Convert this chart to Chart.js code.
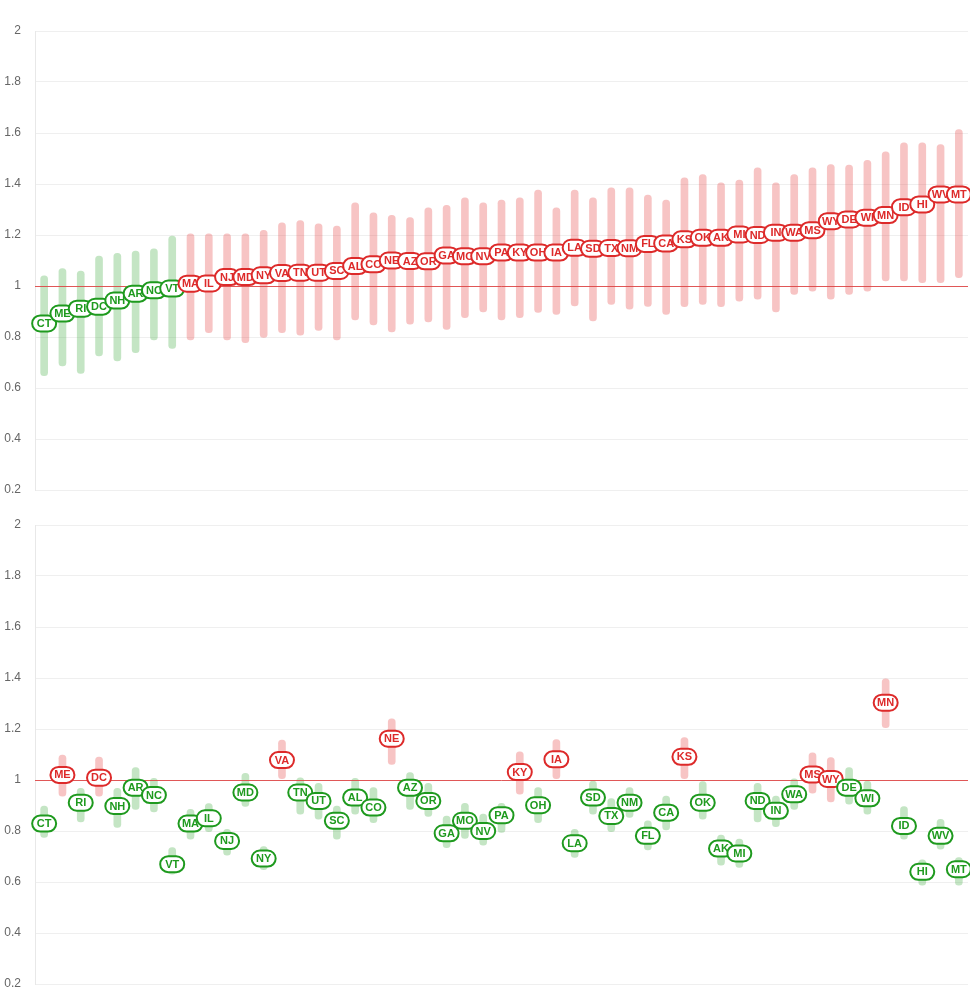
<!DOCTYPE html>
<html>
<head>
<meta charset="utf-8">
<script src="https://cdn.jsdelivr.net/npm/chart.js@4.4.1/dist/chart.umd.min.js"></script>
<style>
    html, body { margin: 0; padding: 0; background: #fff; }
    .panel { position: relative; width: 970px; height: 500px; }
</style>
</head>
<body>
<div class="panel"><canvas id="topChart"></canvas></div>
<div class="panel"><canvas id="bottomChart"></canvas></div>
<script>
// State order (sorted by the top panel estimate)
const states = ['CT','ME','RI','DC','NH','AR','NC','VT','MA','IL','NJ','MD','NY','VA','TN','UT','SC','AL','CO','NE',
    'AZ','OR','GA','MO','NV','PA','KY','OH','IA','LA','SD','TX','NM','FL','CA','KS','OK','AK','MI','ND',
    'IN','WA','MS','WY','DE','WI','MN','ID','HI','WV','MT'];

// Top panel: estimate and interval
const topValue = [0.853,0.892,0.911,0.919,0.943,0.970,0.983,0.990,1.009,1.010,1.035,1.035,1.042,1.051,1.052,1.052,1.059,1.078,1.085,1.100,
    1.098,1.097,1.120,1.117,1.117,1.131,1.131,1.131,1.131,1.150,1.146,1.149,1.148,1.165,1.167,1.183,1.189,1.189,1.202,1.200,
    1.209,1.209,1.219,1.254,1.261,1.268,1.278,1.309,1.320,1.359,1.359];
const topLow = [0.648,0.687,0.657,0.726,0.706,0.739,0.789,0.755,0.789,0.817,0.789,0.778,0.798,0.817,0.807,0.826,0.789,0.867,0.847,0.820,
    0.850,0.859,0.830,0.876,0.898,0.867,0.876,0.896,0.889,0.922,0.863,0.928,0.909,0.920,0.889,0.919,0.928,0.919,0.941,0.948,
    0.898,0.967,0.980,0.948,0.967,0.980,1.020,1.020,1.013,1.013,1.033];
const topHigh = [1.040,1.068,1.059,1.117,1.128,1.137,1.146,1.196,1.205,1.205,1.205,1.205,1.218,1.248,1.257,1.244,1.235,1.326,1.287,1.277,
    1.268,1.307,1.316,1.346,1.326,1.337,1.346,1.376,1.307,1.376,1.346,1.385,1.385,1.357,1.337,1.424,1.437,1.405,1.415,1.463,
    1.405,1.437,1.463,1.476,1.474,1.493,1.526,1.561,1.561,1.555,1.613];

// Bottom panel: estimate and interval
const bottomValue = [0.829,1.020,0.911,1.009,0.898,0.970,0.941,0.670,0.829,0.850,0.761,0.951,0.692,1.078,0.951,0.918,0.840,0.931,0.892,1.162,
    0.970,0.918,0.791,0.840,0.800,0.862,1.031,0.901,1.081,0.752,0.931,0.859,0.911,0.781,0.872,1.091,0.911,0.731,0.712,0.918,
    0.879,0.944,1.022,1.004,0.970,0.928,1.303,0.820,0.640,0.781,0.650];
const bottomLow = [0.775,0.937,0.836,0.937,0.814,0.885,0.875,0.631,0.768,0.797,0.705,0.896,0.648,1.005,0.866,0.846,0.768,0.866,0.833,1.061,
    0.885,0.857,0.735,0.771,0.744,0.794,0.944,0.833,1.005,0.696,0.866,0.797,0.853,0.726,0.804,1.005,0.846,0.666,0.657,0.836,
    0.817,0.885,0.948,0.914,0.905,0.866,1.205,0.768,0.588,0.729,0.588];
const bottomHigh = [0.898,1.098,0.967,1.090,0.967,1.049,1.007,0.735,0.885,0.908,0.807,1.026,0.739,1.157,1.009,0.987,0.898,1.007,0.970,1.240,
    1.029,0.987,0.859,0.909,0.866,0.909,1.110,0.970,1.159,0.807,0.996,0.927,0.970,0.840,0.937,1.166,0.994,0.784,0.768,0.987,
    0.937,1.005,1.107,1.088,1.049,0.996,1.397,0.896,0.687,0.846,0.696];

const yTicks = [0.2, 0.4, 0.6, 0.8, 1, 1.2, 1.4, 1.6, 1.8, 2];
const refValue = 1;

const RED = '#dd2a2a';
const GREEN = '#1e9a1e';
const RED_BAR = 'rgba(230,60,60,0.3)';
const GREEN_BAR = 'rgba(60,170,60,0.3)';

// red reference line at 1 across the plot, then the rounded state tags on top
const pillPlugin = {
    id: 'pills',
    afterDatasetsDraw(chart) {
        const ctx = chart.ctx;
        const area = chart.chartArea;
        const yRef = Math.round(chart.scales.y.getPixelForValue(refValue)) + 0.5;
        ctx.save();
        ctx.strokeStyle = 'rgba(222,70,70,0.9)';
        ctx.lineWidth = 1;
        ctx.beginPath();
        ctx.moveTo(area.left, yRef);
        ctx.lineTo(area.right, yRef);
        ctx.stroke();

        const idx = chart.data.datasets.findIndex(d => d.isPills);
        const ds = chart.data.datasets[idx];
        const meta = chart.getDatasetMeta(idx);
        ctx.font = 'bold 11px Arial, "Liberation Sans", sans-serif';
        ctx.textAlign = 'center';
        ctx.textBaseline = 'middle';
        meta.data.forEach((pt, i) => {
            const col = ds.data[i] >= 1 ? RED : GREEN;
            const w = 24, h = 16, x = pt.x - w / 2, y = pt.y - h / 2;
            ctx.beginPath();
            ctx.roundRect(x, y, w, h, 8);
            ctx.fillStyle = '#fff';
            ctx.fill();
            ctx.lineWidth = 2;
            ctx.strokeStyle = col;
            ctx.stroke();
            ctx.fillStyle = col;
            ctx.fillText(chart.data.labels[i], pt.x, pt.y + 0.5);
        });
        ctx.restore();
    }
};

function makeChart(id, values, lows, highs, padTop, padBottom) {
    const ranges = lows.map((l, i) => [l, highs[i]]);
    const barColors = values.map(v => v >= 1 ? RED_BAR : GREEN_BAR);
    new Chart(document.getElementById(id), {
        type: 'bar',
        data: {
            labels: states,
            datasets: [
                {
                    type: 'bar',
                    data: ranges,
                    backgroundColor: barColors,
                    barThickness: 7,
                    borderRadius: 4,
                    borderSkipped: false
                },
                {
                    type: 'line',
                    isPills: true,
                    data: values,
                    showLine: false,
                    pointRadius: 0
                }
            ]
        },
        options: {
            responsive: true,
            maintainAspectRatio: false,
            animation: false,
            layout: { padding: { top: padTop, bottom: padBottom, left: 4, right: 2 } },
            plugins: { legend: { display: false }, tooltip: { enabled: false } },
            scales: {
                x: {
                    display: false,
                    offset: true
                },
                y: {
                    min: 0.2,
                    max: 2,
                    afterBuildTicks: axis => { axis.ticks = yTicks.map(v => ({ value: v })); },
                    afterFit: axis => {
                        axis.width = 31;
                        axis.paddingTop = 7;
                        axis.paddingBottom = 7;
                    },
                    ticks: {
                        color: '#666',
                        font: { size: 12 },
                        padding: 14,
                        callback: v => String(Math.round(v * 10) / 10)
                    },
                    grid: { color: '#efefef', drawTicks: false },
                    border: { color: '#e8e8e8' }
                }
            }
        },
        plugins: [pillPlugin]
    });
}

makeChart('topChart', topValue, topLow, topHigh, 31, 10);
makeChart('bottomChart', bottomValue, bottomLow, bottomHigh, 25, 16);
</script>
</body>
</html>
